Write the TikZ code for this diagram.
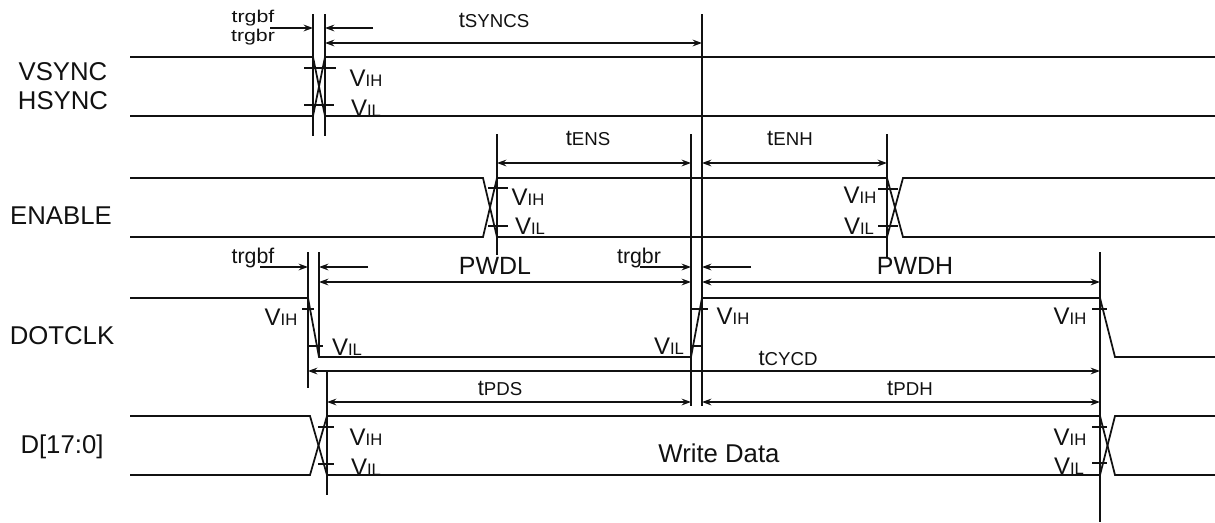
\documentclass[tikz,border=0pt]{standalone}
\usepackage{fontspec}
\setmainfont{Liberation Sans}
\usetikzlibrary{arrows.meta}
\definecolor{ink}{HTML}{111111}
\newcommand{\tm}[1]{{\fontsize{16.5pt}{17pt}\selectfont t\fontsize{14pt}{15pt}\selectfont #1}}
\newcommand{\vv}[1]{{\fontsize{18pt}{18pt}\selectfont V\fontsize{12.5pt}{13pt}\selectfont #1}}
\tikzset{
  wave/.style={draw=ink,line width=1.3pt},
  guide/.style={draw=ink,line width=1.3pt},
  tickmark/.style={draw=ink,line width=1pt},
  dim/.style={draw=ink,line width=1.2pt,{Stealth[length=7pt,width=5pt]}-{Stealth[length=7pt,width=5pt]}},
  lead/.style={draw=ink,line width=1.2pt,-{Stealth[length=7pt,width=5pt]}},
  sig/.style={font=\fontsize{19.3pt}{20pt}\selectfont,text=ink,inner sep=0pt},
  big/.style={font=\fontsize{18.7pt}{20pt}\selectfont,text=ink,inner sep=0pt},
  lab/.style={text=ink,inner sep=0pt},
  tiny/.style={font=\fontsize{16pt}{17pt}\selectfont,text=ink,inner sep=0pt}
}
\begin{document}
\begin{tikzpicture}[x=0.75pt,y=-0.75pt]
\path[use as bounding box,fill=white] (0,0) rectangle (1215,522);
% guides
\draw[guide] (313,14)--(313,136);
\draw[guide] (325,14)--(325,136);
\draw[guide] (702,14)--(702,406);
\draw[guide] (691,134)--(691,406);
\draw[guide] (497,134)--(497,255);
\draw[guide] (887,134)--(887,257);
\draw[guide] (308,252)--(308,388);
\draw[guide] (319,252)--(319,357);
\draw[guide] (327,371)--(327,495);
\draw[guide] (1100,252)--(1100,522);
% VSYNC
\draw[wave] (130,57)--(313,57)--(325,116)--(1215,116);
\draw[wave] (130,116)--(313,116)--(325,57)--(1215,57);
\draw[tickmark] (304,68)--(336,68) (304,105)--(334,105);
% ENABLE
\draw[wave] (130,178)--(483,178)--(497,237)--(887,237)--(903,178)--(1215,178);
\draw[wave] (130,237)--(483,237)--(497,178)--(887,178)--(903,237)--(1215,237);
\draw[tickmark] (488,188)--(508,188) (488,226)--(508,226) (878,189)--(898,189) (878,226)--(898,226);
% DOTCLK
\draw[wave] (130,298)--(308,298)--(319,357)--(691,357)--(702,298)--(1100,298)--(1115,357)--(1215,357);
\draw[tickmark] (302,309)--(314,309) (308,346)--(323,346) (692,309)--(708,309) (691,346)--(702,346) (1092,309)--(1107,309);
% D
\draw[wave] (130,416)--(310,416)--(327,475)--(1100,475)--(1115,416)--(1215,416);
\draw[wave] (130,475)--(310,475)--(327,416)--(1100,416)--(1115,475)--(1215,475);
\draw[tickmark] (318,427)--(334,427) (318,464)--(334,464) (1092,427)--(1107,427) (1092,463)--(1107,463);
% dimensions
\draw[lead] (270,28)--(313,28);
\draw[lead] (373,28)--(325,28);
\draw[dim] (325,43)--(702,43);
\draw[dim] (497,163)--(691,163);
\draw[dim] (702,163)--(887,163);
\draw[lead] (260,267)--(308,267);
\draw[lead] (368,267)--(319,267);
\draw[dim] (319,282)--(691,282);
\draw[lead] (640,267)--(691,267);
\draw[lead] (751,267)--(702,267);
\draw[dim] (702,282)--(1100,282);
\draw[dim] (308,371)--(1100,371);
\draw[dim] (327,402)--(691,402);
\draw[dim] (702,402)--(1100,402);
% signal names
\node[sig] (nv) at (63,72) {VSYNC};
\node[sig] (nh) at (63,101) {HSYNC};
\node[sig] (ne) at (61,216) {ENABLE};
\node[sig] (nc) at (62,336) {DOTCLK};
\node[sig] (nd) at (62,447) {D[17:0]};
\node[sig] (nw) at (719,453) {Write Data};
\node[big] (npl) at (495,266) {PWDL};
\node[big] (nph) at (915,266) {PWDH};
% timing labels
\node[tiny] (t1) at (253,18) {\scalebox{1}[0.8]{trgbf}};
\node[tiny] (t2) at (253,37) {\scalebox{1}[0.8]{trgbr}};
\node[tiny] (t3) at (253,258) {trgbf};
\node[tiny] (t4) at (639,258) {trgbr};
\node[lab] (s1) at (494,20) {\tm{SYNCS}};
\node[lab] (s2) at (588,138) {\tm{ENS}};
\node[lab] (s3) at (790,138) {\tm{ENH}};
\node[lab] (s4) at (788,358) {\tm{CYCD}};
\node[lab] (s5) at (500,388) {\tm{PDS}};
\node[lab] (s6) at (910,388) {\tm{PDH}};
% levels
\node[lab] (v1) at (366,78) {\vv{IH}};
\node[lab] (v2) at (366,108) {\vv{IL}};
\node[lab] (v3) at (528,197) {\vv{IH}};
\node[lab] (v4) at (530,226) {\vv{IL}};
\node[lab] (v5) at (860,195) {\vv{IH}};
\node[lab] (v6) at (859,226) {\vv{IL}};
\node[lab] (v7) at (281,317) {\vv{IH}};
\node[lab] (v8) at (347,347) {\vv{IL}};
\node[lab] (v9) at (733,316) {\vv{IH}};
\node[lab] (v10) at (669,346) {\vv{IL}};
\node[lab] (v11) at (1070,316) {\vv{IH}};
\node[lab] (v12) at (366,437) {\vv{IH}};
\node[lab] (v13) at (366,467) {\vv{IL}};
\node[lab] (v14) at (1070,437) {\vv{IH}};
\node[lab] (v15) at (1069,466) {\vv{IL}};
\end{tikzpicture}
\end{document}
